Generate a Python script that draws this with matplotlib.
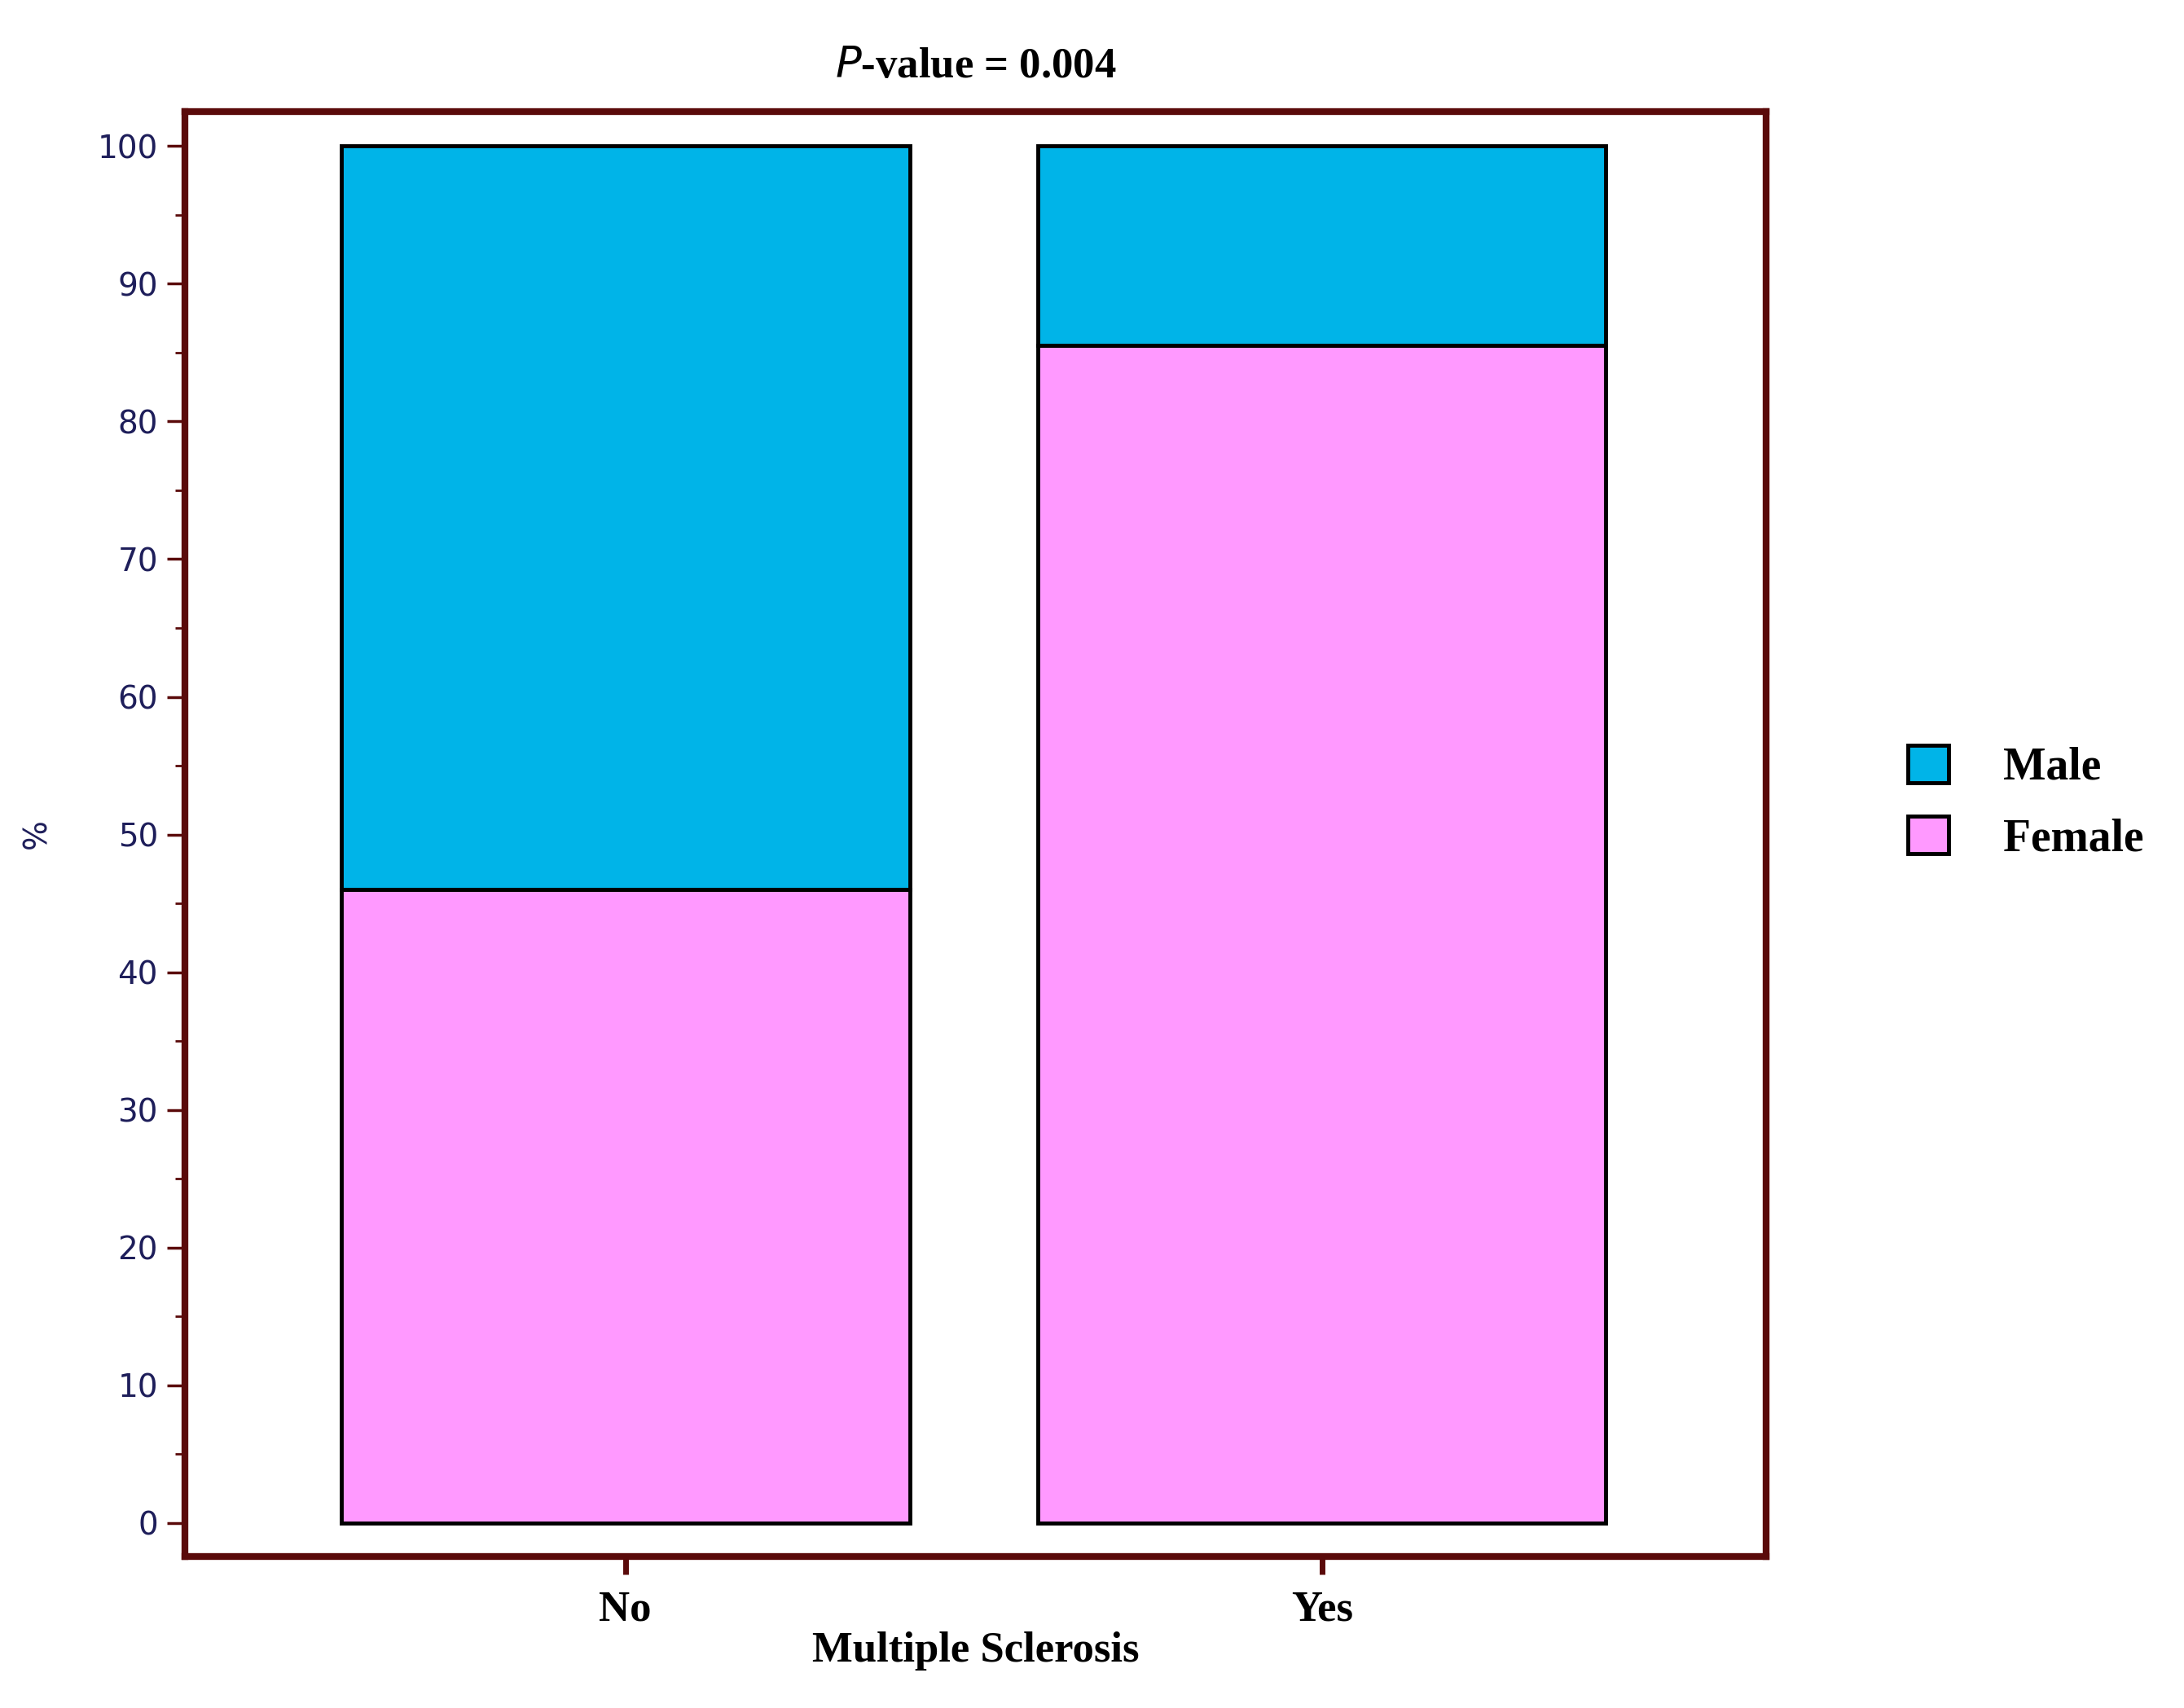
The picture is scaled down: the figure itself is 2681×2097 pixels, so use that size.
import matplotlib
matplotlib.use("Agg")
import matplotlib.pyplot as plt
from matplotlib.ticker import MultipleLocator
from matplotlib.patches import Patch

groups = ["No", "Yes"]
female = [46.0, 85.5]
male = [54.0, 14.5]

FRAME = "#5a0a0a"
TICK = "#1e1e5a"
SERIF = "Liberation Serif"

fig = plt.figure(figsize=(26.81, 20.97), dpi=100)
ax = fig.add_axes([0.0848, 0.0889, 0.8087 - 0.0848, 0.9347 - 0.0889])

x = list(range(len(groups)))
ax.bar(x, female, width=0.816, color="#ff99ff", edgecolor="black", linewidth=3.5, zorder=2)
ax.bar(x, male, width=0.816, bottom=female, color="#00b4e8", edgecolor="black", linewidth=3.5, zorder=2)

ax.set_xlim(-0.632, 1.638)
ax.set_ylim(-2.4, 102.5)
ax.set_xticks(x)
ax.set_xticklabels(groups, fontfamily=SERIF, fontweight="bold", fontsize=38)
ax.yaxis.set_major_locator(MultipleLocator(10))
ax.yaxis.set_minor_locator(MultipleLocator(5))
for s in ax.spines.values():
    s.set_color(FRAME)
    s.set_linewidth(6)
ax.tick_params(axis="y", which="major", length=16, width=2.5, color=FRAME, labelcolor=TICK, labelsize=28, pad=8)
ax.tick_params(axis="y", which="minor", length=9, width=2, color=FRAME)
ax.tick_params(axis="x", length=16, width=5, color=FRAME, labelcolor="black", pad=14)
ax.set_ylabel("%", fontsize=28, color=TICK, labelpad=40)
ax.set_xlabel("Multiple Sclerosis", fontfamily=SERIF, fontweight="bold", fontsize=38, labelpad=2)
ax.set_title(r"$\it{P}$-value = 0.004", fontfamily=SERIF, fontweight="bold", fontsize=38, pad=30)

handles = [Patch(facecolor="#00b4e8", edgecolor="black", linewidth=3.5, label="Male"),
           Patch(facecolor="#ff99ff", edgecolor="black", linewidth=3.5, label="Female")]
fig.legend(handles=handles, loc="center left", bbox_to_anchor=(0.855, 0.53), frameon=False,
           prop={"family": SERIF, "weight": "bold", "size": 40},
           handlelength=0.9, handleheight=0.9, handletextpad=1.2, labelspacing=0.6)

fig.savefig("out.png", dpi=100)
